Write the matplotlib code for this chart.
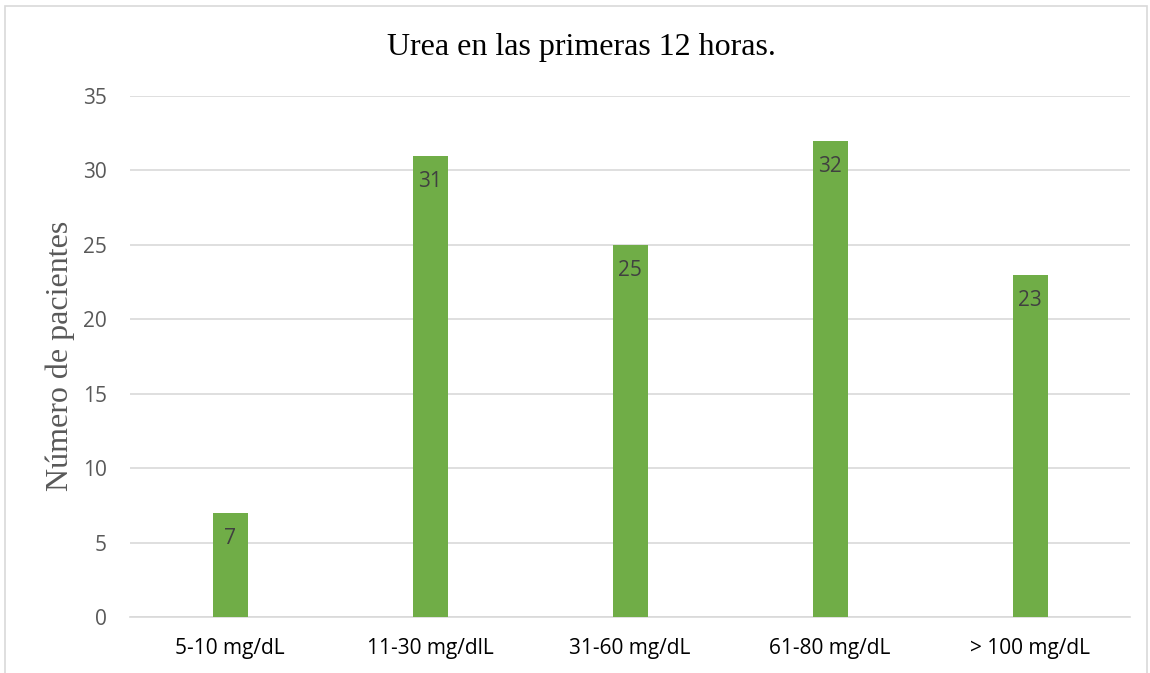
import matplotlib
matplotlib.use("Agg")
import matplotlib.pyplot as plt
from matplotlib.patches import Rectangle

categories = ["5-10 mg/dL", "11-30 mg/dlL", "31-60 mg/dL", "61-80 mg/dL", "> 100 mg/dL"]
values = [7, 31, 25, 32, 23]
yticks = [0, 5, 10, 15, 20, 25, 30, 35]
title = "Urea en las primeras 12 horas."
ylabel = "Número de pacientes"

fig = plt.figure(figsize=(11.5, 6.73), dpi=100)
ax = fig.add_axes([130/1150, 56/673, 1000/1150, 521/673])

x = list(range(len(categories)))
bars = ax.bar(x, values, width=0.175, color="#70AD47", zorder=3)
for xi, v in zip(x, values):
    ax.annotate(str(v), (xi, v), xytext=(0, -18.5), textcoords="offset points",
                ha="center", va="center", fontsize=15, color="#404040",
                family="Open Sans", zorder=4)

ax.set_xlim(-0.5, len(categories) - 0.5)
ax.set_ylim(0, 35)
ax.set_yticks(yticks)
ax.set_xticks(x)
ax.set_xticklabels(categories)
ax.yaxis.grid(True, color="#D9D9D9", linewidth=1.2, zorder=0)
ax.set_axisbelow(True)
for s in ["top", "right", "left"]:
    ax.spines[s].set_visible(False)
ax.spines["bottom"].set_color("#D9D9D9")
ax.spines["bottom"].set_linewidth(1.2)
ax.tick_params(axis="both", length=0, labelsize=15, colors="#595959")
ax.tick_params(axis="y", pad=16.5)
ax.tick_params(axis="x", pad=15)
for lab in ax.get_xticklabels() + ax.get_yticklabels():
    lab.set_family("Open Sans")
for lab in ax.get_xticklabels():
    lab.set_color("#000000")

fig.text(581/1150, 1 - 47/673, title, ha="center", va="center",
         fontsize=23, family="Liberation Serif", color="#000000")
fig.text(60/1150, 1 - 356/673, ylabel, ha="center", va="center", rotation=90,
         fontsize=23, family="Liberation Serif", color="#595959")

fig.add_artist(Rectangle((5/1150, -0.01), 1142/1150, 1 - 6/673 + 0.01,
                         transform=fig.transFigure, fill=False,
                         edgecolor="#D9D9D9", linewidth=1.2))

fig.savefig("out.png", dpi=100)
